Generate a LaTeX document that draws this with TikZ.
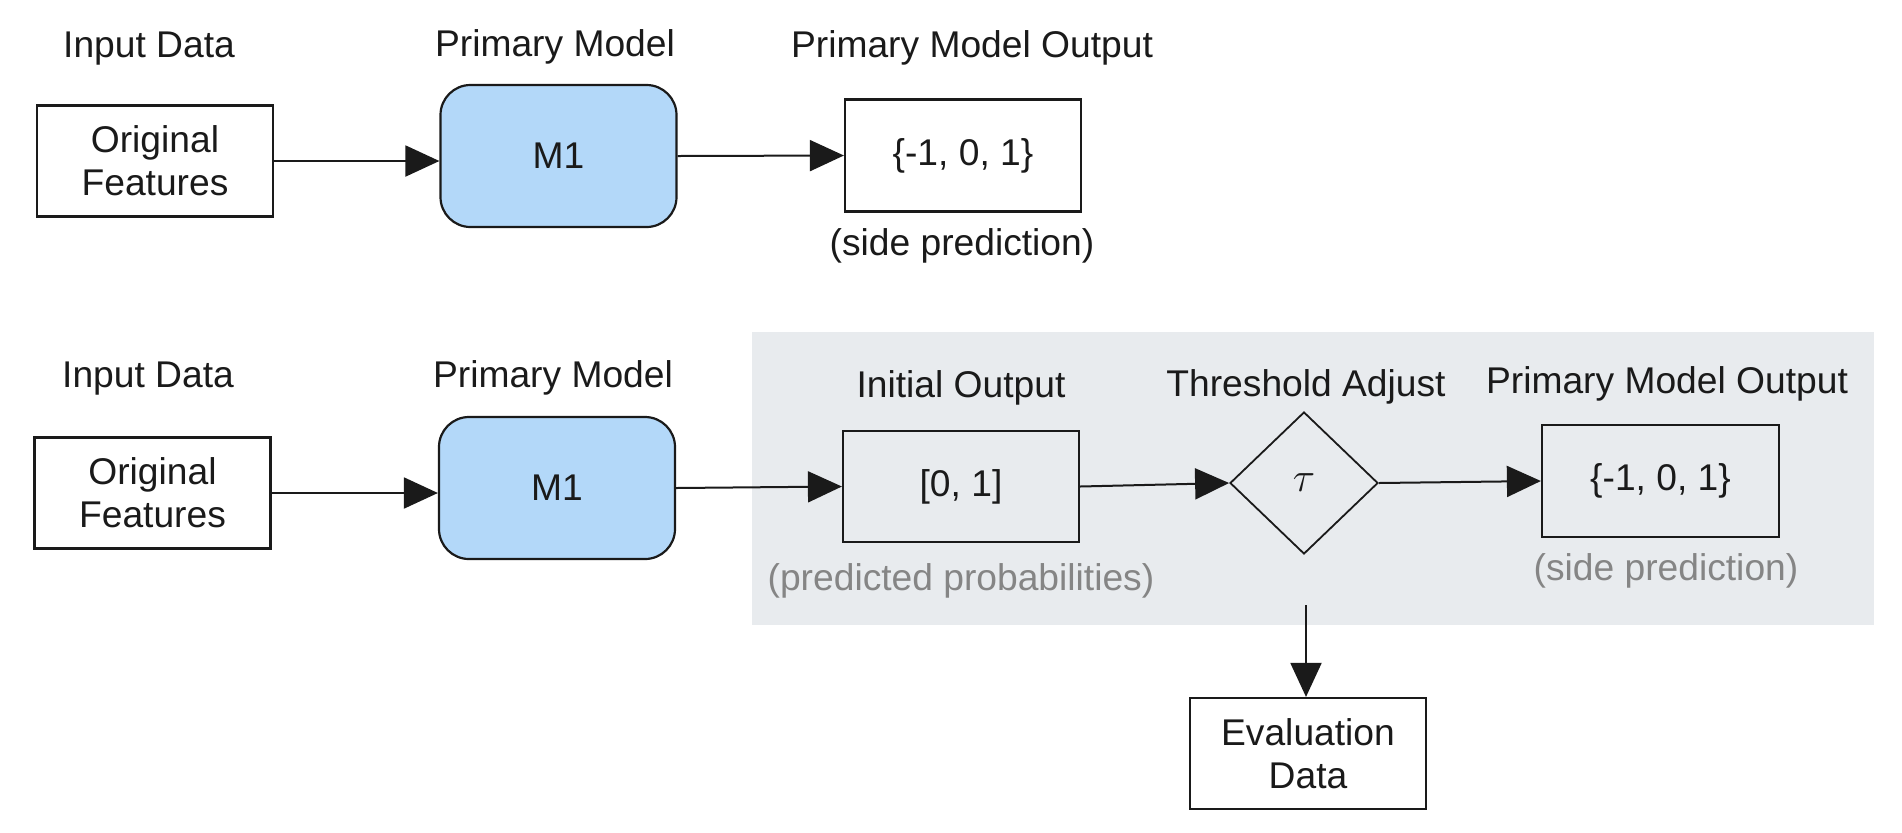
\documentclass[tikz,border=0pt]{standalone}
\usepackage{fontspec}
\setmainfont{Liberation Sans}
\usetikzlibrary{arrows.meta,shapes.geometric}
\definecolor{ink}{HTML}{1A1A1A}
\definecolor{mblue}{HTML}{B3D8F9}
\definecolor{bgpanel}{HTML}{E8EBEE}
\definecolor{gtext}{HTML}{858585}
\begin{document}
\begin{tikzpicture}[x=0.5pt,y=-0.5pt,
  font=\fontsize{18.6}{22.5}\selectfont, text=ink,
  box/.style={draw=ink, line width=1.1pt, rectangle, inner sep=0pt, align=center, minimum width=118pt},
  model/.style={draw=ink, line width=1.1pt, rectangle, rounded corners=15pt, fill=mblue, inner sep=0pt, minimum width=118pt, minimum height=71pt},
  decide/.style={draw=ink, line width=0.9pt, diamond, inner sep=0pt, minimum width=74pt, minimum height=71pt},
  lbl/.style={anchor=base, inner sep=0pt},
  note/.style={anchor=base, inner sep=0pt, text=gtext},
  flow/.style={draw=ink, line width=1pt, -{Triangle[length=17pt, width=15.5pt]}}]
\useasboundingbox (0,0) rectangle (1902,832);
\fill[bgpanel] (752,332) rectangle (1874,625);

% row 1
\node[lbl] (in1) at (149,57) {Input Data};
\node[lbl] (pm1) at (555,56) {Primary Model};
\node[lbl] (po1) at (972,57) {Primary Model Output};
\node[box, minimum height=55.5pt] (of1) at (155,161) {Original\\[-1pt]Features};
\node[model] (m1a) at (558.5,156) {M1};
\node[box, minimum height=56pt] (out1) at (963,155.5) {\{-1, 0, 1\}};
\node[lbl] (sp1) at (962,255) {(side prediction)};
\draw[flow] (of1.east) -- (of1.east -| m1a.west);
\draw[flow] (m1a.east) -- (out1.west);

% row 2
\node[lbl] (in2) at (148,387) {Input Data};
\node[lbl] (pm2) at (553,387) {Primary Model};
\node[lbl] (io) at (961,397) {Initial Output};
\node[lbl] (ta) at (1306,396) {Threshold Adjust};
\node[lbl] (po2) at (1667,393) {Primary Model Output};
\node[box, minimum height=55.5pt] (of2) at (152.5,493) {Original\\[-1pt]Features};
\node[model] (m1b) at (557,488) {M1};
\node[box, minimum height=55.5pt] (init) at (961,486.5) {[0, 1]};
\node[decide] (tau) at (1304,483) {\fontsize{20}{22}\selectfont$\tau$};
\node[box, minimum height=56pt, minimum width=118.5pt] (out2) at (1660.5,481) {\{-1, 0, 1\}};
\node[note] (pp) at (961,590) {(predicted probabilities)};
\node[note] (sp2) at (1666,580) {(side prediction)};
\node[box, minimum height=55.5pt] (eval) at (1308,753.5) {Evaluation\\[-1pt]Data};
\coordinate (evstart) at (1306,605);
\draw[flow] (of2.east) -- (of2.east -| m1b.west);
\draw[flow] (m1b.east) -- (init.west);
\draw[flow] (init.east) -- (tau.west);
\draw[flow] (tau.east) -- (out2.west);
\draw[flow] (evstart) -- (eval.north -| evstart);
\end{tikzpicture}
\end{document}
